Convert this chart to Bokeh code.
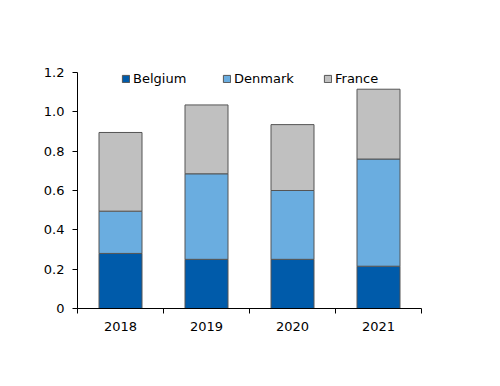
from bokeh.plotting import figure
from bokeh.models import ColumnDataSource, FixedTicker, Legend, LegendItem, Range1d
from bokeh.embed import file_html
from bokeh.resources import INLINE

years = ["2018", "2019", "2020", "2021"]
belgium = [0.28, 0.25, 0.25, 0.215]
denmark = [0.215, 0.435, 0.35, 0.545]
france = [0.40, 0.35, 0.335, 0.355]
series = ["Belgium", "Denmark", "France"]
colors = ["#005BAA", "#6AADE0", "#C0C0C0"]
y_ticks = [0, 0.2, 0.4, 0.6, 0.8, 1.0, 1.2]

xpos = [i + 0.5 for i in range(len(years))]
source = ColumnDataSource(dict(x=xpos, Belgium=belgium, Denmark=denmark, France=france))

FONT = "DejaVu Sans"

p = figure(width=484, height=370, output_backend="svg", toolbar_location=None,
           x_range=Range1d(0, len(years)), y_range=Range1d(0, 1.2),
           min_border_left=77, min_border_right=63, min_border_top=72, min_border_bottom=62)
p.outline_line_color = None
p.grid.visible = False
p.background_fill_color = "white"
p.border_fill_color = "white"

renderers = p.vbar_stack(series, x="x", width=0.5, source=source, fill_color=colors,
                         line_color="#555555", line_width=1)

# axes
p.xaxis.ticker = FixedTicker(ticks=xpos, minor_ticks=list(range(len(years) + 1)))
p.xaxis.major_label_overrides = {x: y for x, y in zip(xpos, years)}
p.xaxis.major_tick_out = 0
p.xaxis.major_tick_in = 0
p.xaxis.minor_tick_out = 5
p.xaxis.minor_tick_in = 0
p.xaxis.major_label_standoff = 8

p.yaxis.ticker = FixedTicker(ticks=y_ticks, minor_ticks=[])
p.yaxis.major_label_overrides = {t: ("0" if t == 0 else f"{t:.1f}") for t in y_ticks}
p.yaxis.major_tick_out = 5
p.yaxis.major_tick_in = 0
p.yaxis.minor_tick_out = 0
p.yaxis.major_label_standoff = 8

for ax in (p.xaxis, p.yaxis):
    ax.axis_line_color = "black"
    ax.axis_line_width = 1
    ax.major_tick_line_color = "black"
    ax.minor_tick_line_color = "black"
    ax.major_label_text_font = FONT
    ax.major_label_text_font_size = "13px"
    ax.major_label_text_color = "black"

legend = Legend(items=[LegendItem(label=s, renderers=[r]) for s, r in zip(series, renderers)],
                orientation="horizontal", location=(44, 222),
                glyph_width=9, glyph_height=9, label_standoff=3, label_width=89,
                spacing=0, padding=0, margin=0,
                border_line_color=None, background_fill_alpha=0,
                label_text_font=FONT, label_text_font_size="13px", label_text_color="black")
p.add_layout(legend, "center")

open("out.html", "w").write(file_html(p, INLINE))
